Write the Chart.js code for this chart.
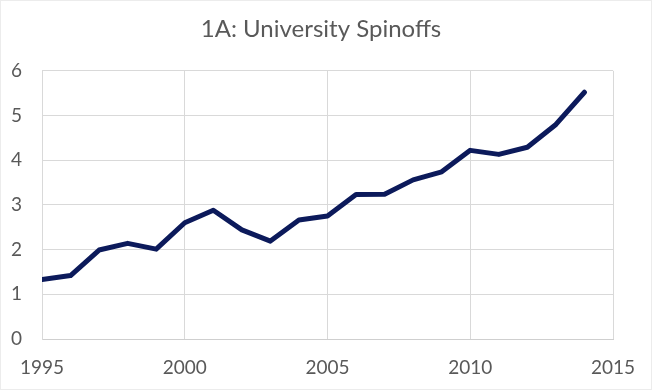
<!DOCTYPE html>
<html>
<head>
<meta charset="utf-8">
<script src="https://cdn.jsdelivr.net/npm/chart.js@4/dist/chart.umd.min.js"></script>
<style>
  html, body { margin: 0; padding: 0; background: #ffffff; }
  canvas { display: block; }
</style>
</head>
<body>
<canvas id="c" width="654" height="390"></canvas>
<script>
// ---- data ----
const chartTitle = '1A: University Spinoffs';
const years = [1995, 1996, 1997, 1998, 1999, 2000, 2001, 2002, 2003, 2004,
               2005, 2006, 2007, 2008, 2009, 2010, 2011, 2012, 2013, 2014];
const spinoffs = [1.33, 1.42, 1.99, 2.14, 2.01, 2.60, 2.88, 2.44, 2.19, 2.66,
                  2.75, 3.23, 3.24, 3.56, 3.74, 4.22, 4.13, 4.29, 4.80, 5.52];
const xTickLabels = ['1995', '2000', '2005', '2010', '2015'];
const yTickLabels = ['0', '1', '2', '3', '4', '5', '6'];

const textColor = '#595959';
const gridColor = '#d9d9d9';
const fontFamily = 'Lato, "Open Sans", sans-serif';

const points = years.map((yr, i) => ({ x: yr, y: spinoffs[i] }));

const outerBorder = {
  id: 'outerBorder',
  beforeDraw(chart) {
    const ctx = chart.ctx;
    ctx.save();
    ctx.fillStyle = '#ffffff';
    ctx.fillRect(0, 0, chart.width, chart.height);
    ctx.strokeStyle = '#ececec';
    ctx.lineWidth = 1;
    ctx.strokeRect(0.5, 0.5, chart.width - 3, chart.height - 1);
    ctx.restore();
  }
};

new Chart(document.getElementById('c'), {
  type: 'line',
  data: {
    datasets: [{
      label: 'University Spinoffs',
      data: points,
      borderColor: '#0c1a5b',
      borderWidth: 5,
      pointRadius: 0,
      tension: 0,
      fill: false,
      borderCapStyle: 'round',
      borderJoinStyle: 'round'
    }]
  },
  options: {
    responsive: false,
    animation: false,
    devicePixelRatio: 1,
    layout: { padding: { top: 0, left: 0, right: 12, bottom: 0 } },
    plugins: {
      legend: { display: false },
      tooltip: { enabled: false },
      title: {
        display: true,
        text: chartTitle,
        color: textColor,
        font: { family: fontFamily, size: 24, weight: 'normal' },
        padding: { top: 15, bottom: 27 }
      }
    },
    scales: {
      x: {
        type: 'linear',
        min: 1995,
        max: 2015,
        afterBuildTicks(scale) {
          scale.ticks = xTickLabels.map(t => ({ value: Number(t) }));
        },
        afterFit(scale) { scale.height = 51; },
        ticks: {
          color: textColor,
          font: { family: fontFamily, size: 19 },
          padding: 17,
          maxRotation: 0,
          autoSkip: false,
          callback: (v) => xTickLabels.find(t => Number(t) === v) || ''
        },
        grid: { color: gridColor, lineWidth: 1, drawTicks: false },
        border: { color: '#cfcfcf', width: 1 }
      },
      y: {
        min: 0,
        max: 6,
        afterBuildTicks(scale) {
          scale.ticks = yTickLabels.map(t => ({ value: Number(t) }));
        },
        afterFit(scale) { scale.width = 42; },
        ticks: {
          color: textColor,
          font: { family: fontFamily, size: 19 },
          padding: 20,
          autoSkip: false,
          callback: (v) => yTickLabels.find(t => Number(t) === v) || ''
        },
        grid: { color: gridColor, lineWidth: 1, drawTicks: false },
        border: { color: gridColor, width: 1 }
      },
      yRightSpace: {
        position: 'right',
        min: 0,
        max: 6,
        afterFit(scale) { scale.width = 29; },
        ticks: { display: false },
        grid: { display: false, drawTicks: false },
        border: { display: false }
      }
    }
  },
  plugins: [outerBorder]
});
</script>
</body>
</html>
